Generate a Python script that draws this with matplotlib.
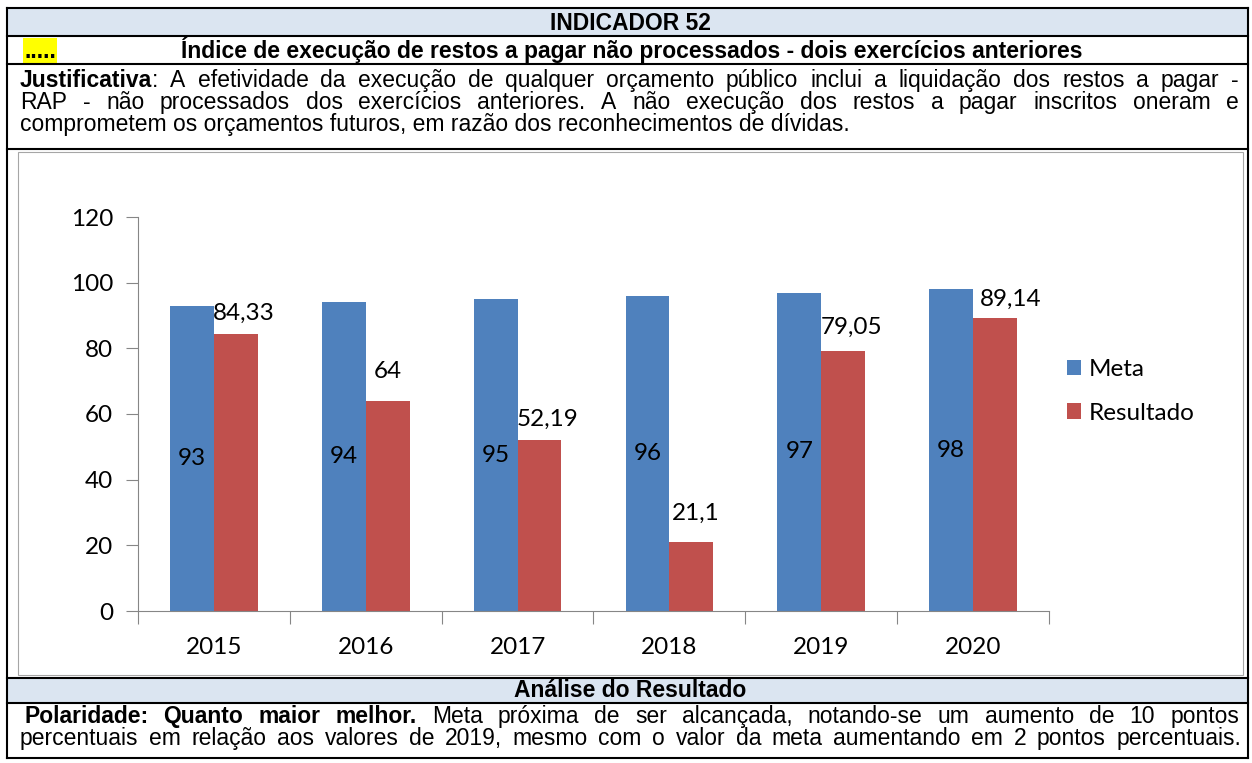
import numpy as np
import matplotlib
matplotlib.use('Agg')
import matplotlib.pyplot as plt
from matplotlib.patches import Rectangle

# dados do indicador
anos = ['2015', '2016', '2017', '2018', '2019', '2020']
meta = [93, 94, 95, 96, 97, 98]
resultado = [84.33, 64, 52.19, 21.1, 79.05, 89.14]
series = ['Meta', 'Resultado']

titulo = 'INDICADOR 52'
subtitulo = 'Índice de execução de restos a pagar não processados - dois exercícios anteriores'
analise_titulo = 'Análise do Resultado'

# deslocamento manual dos rótulos do Resultado (pixels)
rot_dx = [8, 0, 8, 4, 8, 16]
rot_dy = [21, 29, 20, 28, 24, 19]

AZUL = '#4F81BD'
VERMELHO = '#C0504D'
CABECALHO = '#DBE5F1'
CINZA = '#868686'
FONTE_TAB = 'Liberation Sans'
FONTE_GRAF = 'Lato'
TAM = 16.5
TAM_GRAF = 17.5

W, H = 1252, 763
fig = plt.figure(figsize=(W / 100, H / 100), dpi=100)
bg = fig.add_axes([0, 0, 1, 1])
bg.set_xlim(0, W)
bg.set_ylim(H, 0)
bg.axis('off')
renderer = fig.canvas.get_renderer()

# tabela
bg.add_patch(Rectangle((7, 8), 1241, 28, facecolor=CABECALHO, edgecolor='none'))
bg.add_patch(Rectangle((7, 678), 1241, 25, facecolor=CABECALHO, edgecolor='none'))
bg.add_patch(Rectangle((23, 38), 34, 25, facecolor='#FFFF00', edgecolor='none'))
bg.add_patch(Rectangle((18, 152), 1225, 523, facecolor='none', edgecolor='#a6a6a6', lw=0.8))
for y in [8, 36, 64, 149, 678, 703, 758]:
    bg.plot([7, 1248], [y, y], color='black', lw=1.5, solid_capstyle='projecting')
for x in [7, 1248]:
    bg.plot([x, x], [8, 758], color='black', lw=1.5, solid_capstyle='projecting')


def palavras(segmentos):
    ws, cur = [], []
    for txt, peso in segmentos:
        partes = txt.split(' ')
        for i, p in enumerate(partes):
            if i > 0:
                if cur:
                    ws.append(cur)
                cur = []
            if p:
                cur.append((p, peso))
    if cur:
        ws.append(cur)
    return ws


def linha(segmentos, x0, x1, y, justificar=True):
    if not justificar:
        x = x0
        for txt, peso in segmentos:
            t = bg.text(x, y, txt, fontsize=TAM, fontweight=peso, family=FONTE_TAB,
                        va='baseline', ha='left')
            x += t.get_window_extent(renderer).width
        return
    ws = palavras(segmentos)
    objs, larg = [], []
    for w in ws:
        partes, tot = [], 0
        for txt, peso in w:
            t = bg.text(0, y, txt, fontsize=TAM, fontweight=peso, family=FONTE_TAB,
                        va='baseline', ha='left')
            l = t.get_window_extent(renderer).width
            partes.append((t, l))
            tot += l
        objs.append(partes)
        larg.append(tot)
    gap = (x1 - x0 - sum(larg)) / (len(ws) - 1)
    x = x0
    for partes, l in zip(objs, larg):
        xx = x
        for t, lp in partes:
            t.set_x(xx)
            xx += lp
        x += l + gap


bg.text(630, 30, titulo, fontsize=TAM, fontweight='bold', family=FONTE_TAB, ha='center', va='baseline')
bg.text(24, 58, '.....', fontsize=TAM, fontweight='bold', family=FONTE_TAB, ha='left', va='baseline')
bg.text(632, 58, subtitulo, fontsize=TAM, fontweight='bold', family=FONTE_TAB, ha='center', va='baseline')

linha([('Justificativa', 'bold'),
       (': A efetividade da execução de qualquer orçamento público inclui a liquidação dos restos a pagar -', 'normal')],
      20, 1239, 87)
linha([('RAP - não processados dos exercícios anteriores. A não execução dos restos a pagar inscritos oneram e', 'normal')],
      20, 1239, 109)
linha([('comprometem os orçamentos futuros, em razão dos reconhecimentos de dívidas.', 'normal')],
      20, 1239, 131, justificar=False)

bg.text(630, 697, analise_titulo, fontsize=TAM, fontweight='bold', family=FONTE_TAB, ha='center', va='baseline')
linha([('Polaridade: Quanto maior melhor.', 'bold'),
       (' Meta próxima de ser alcançada, notando-se um aumento de 10 pontos', 'normal')],
      24, 1239, 723)
linha([('percentuais em relação aos valores de 2019, mesmo com o valor da meta aumentando em 2 pontos percentuais.', 'normal')],
      20, 1241, 745)

# gráfico
ax = fig.add_axes([138 / W, (H - 611) / H, (1049 - 138) / W, (611 - 217) / H])
ax.set_facecolor('none')
x = np.arange(len(anos))
w = 0.289
b1 = ax.bar(x - w / 2, meta, w, color=AZUL, label=series[0])
b2 = ax.bar(x + w / 2, resultado, w, color=VERMELHO, label=series[1])

for i, v in enumerate(meta):
    ax.text(i - w / 2, v / 2, str(v), ha='center', va='center', fontsize=TAM_GRAF, family=FONTE_GRAF)
for i, v in enumerate(resultado):
    rot = '{:g}'.format(v).replace('.', ',')
    ax.annotate(rot, xy=(i + w / 2, v), xytext=(rot_dx[i], rot_dy[i]), textcoords='offset pixels',
                ha='center', va='center', fontsize=TAM_GRAF, family=FONTE_GRAF)

ax.set_xlim(-0.5, len(anos) - 0.5)
ax.set_ylim(0, 120)
ax.set_yticks(range(0, 121, 20))
ax.set_xticks(x)
ax.set_xticklabels(anos)
ax.set_xticks(np.arange(-0.5, len(anos), 1), minor=True)
for s in ['top', 'right']:
    ax.spines[s].set_visible(False)
for s in ['left', 'bottom']:
    ax.spines[s].set_color(CINZA)
    ax.spines[s].set_linewidth(0.8)
ax.tick_params(axis='y', length=9, width=0.8, color=CINZA, pad=9, labelsize=TAM_GRAF)
ax.tick_params(axis='x', which='major', length=0, pad=18.5, labelsize=TAM_GRAF)
ax.tick_params(axis='x', which='minor', length=9, width=0.8, color=CINZA)
for lab in ax.get_xticklabels() + ax.get_yticklabels():
    lab.set_family(FONTE_GRAF)

ax.legend(loc='upper left', bbox_to_anchor=(1067 / W, 1 - 359 / H), bbox_transform=fig.transFigure,
          frameon=False, prop={'family': FONTE_GRAF, 'size': TAM_GRAF},
          handlelength=0.58, handleheight=0.58, handletextpad=0.3, labelspacing=0.93,
          borderpad=0, borderaxespad=0)

fig.savefig('out.png', dpi=100)
